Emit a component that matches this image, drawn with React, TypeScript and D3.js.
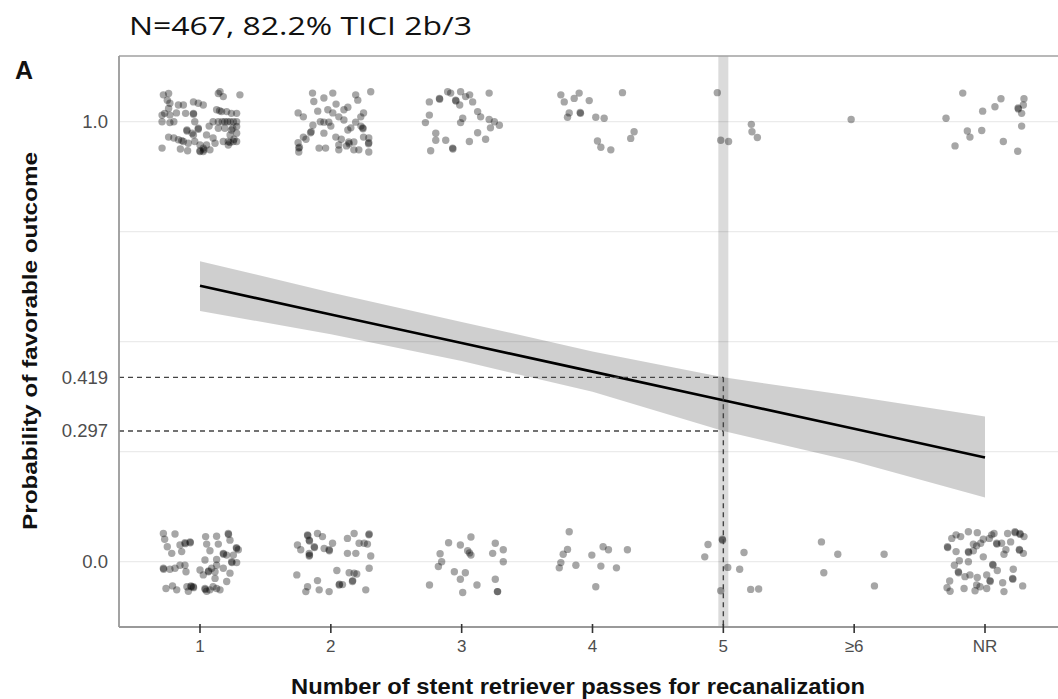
import React from "react";
import * as d3 from "d3";

// Categories on the x axis (number of stent retriever passes)
const categories = ["1", "2", "3", "4", "5", "≥6", "NR"];

// Modelled probability of a favourable outcome with its 95% confidence band
const fitValues = [0.627, 0.562, 0.497, 0.432, 0.367, 0.302, 0.237];
const ciLower = [0.57, 0.517, 0.456, 0.386, 0.297, 0.228, 0.146];
const ciUpper = [0.683, 0.612, 0.545, 0.478, 0.419, 0.376, 0.33];

const markedPassIndex = 4;
const markedBounds = [0.419, 0.297];

// Y axis ticks and grid
const yTickValues = [0, 0.297, 0.419, 1];
const yTickLabels = ["0.0", "0.297", "0.419", "1.0"];
const gridValues = [0, 0.25, 0.5, 0.75, 1];

type Pt = [number, number]; // [offset within category, jittered outcome]

// Favourable outcome (1), jittered
const fav1: Pt[] = [
  [-0.28, 1.061], [-0.24, 1.064], [-0.25, 1.049], [-0.23, 1.042], [-0.24, 1.03], [-0.27, 1.019],
  [-0.29, 1.015], [-0.23, 1.015], [-0.29, 1.0], [-0.23, 0.998], [-0.165, 1.038], [-0.127, 1.038],
  [-0.11, 1.019], [-0.05, 1.045], [-0.05, 1.019], [-0.05, 1.017], [-0.013, 1.042], [0.025, 1.038],
  [-0.04, 1.0], [-0.1, 0.981], [-0.1, 0.979], [-0.013, 0.985], [-0.013, 0.983], [-0.06, 0.974],
  [-0.24, 0.965], [-0.2, 0.963], [-0.165, 0.959], [-0.127, 0.955], [-0.09, 0.951], [-0.29, 0.94],
  [-0.15, 0.938], [-0.095, 0.934], [-0.04, 0.955], [0.0, 0.947], [0.025, 0.94], [0.025, 0.932],
  [0.05, 0.947], [0.076, 0.936], [0.1, 0.963], [0.115, 0.951], [0.14, 1.064], [0.153, 1.068],
  [0.178, 1.057], [0.305, 1.061], [0.127, 1.027], [0.165, 1.023], [0.204, 1.023], [0.24, 1.019],
  [0.28, 1.019], [0.1, 1.0], [0.14, 1.0], [0.19, 1.0], [0.23, 1.0], [0.255, 1.0], [0.14, 0.985],
  [0.19, 0.985], [0.24, 0.981], [0.28, 0.989], [0.23, 0.97], [0.28, 0.974], [0.178, 0.955],
  [0.216, 0.955], [0.255, 0.955], [0.28, 0.955], [0.216, 0.947], [0.0, 0.932], [0.0, 0.934],
  [0.23, 0.953], [0.25, 0.985], [0.15, 1.025], [0.17, 1.0], [0.21, 1.0], [-0.14, 0.957],
  [0.03, 0.936], [-0.05, 0.97], [-0.2, 1.0], [-0.18, 1.02], [0.05, 0.97], [0.07, 0.99],
  [0.28, 1.0], [0.26, 0.96],
];
const fav2: Pt[] = [
  [-0.14, 1.065], [-0.13, 1.046], [-0.053, 1.054], [0.015, 1.065], [-0.25, 1.02], [-0.21, 1.011],
  [-0.1, 1.024], [-0.023, 1.027], [0.015, 1.02], [0.1, 1.027], [0.13, 1.033], [0.19, 1.061],
  [0.206, 1.049], [-0.137, 0.992], [-0.053, 0.999], [-0.015, 0.999], [0.061, 1.011], [0.1, 1.004],
  [0.19, 0.999], [-0.15, 0.977], [-0.155, 0.975], [-0.21, 0.965], [-0.053, 0.974], [0.038, 0.965],
  [0.13, 0.981], [-0.25, 0.952], [-0.245, 0.94], [-0.24, 0.942], [-0.245, 0.931], [-0.09, 0.94],
  [-0.04, 0.94], [0.061, 0.947], [0.061, 0.936], [0.137, 0.954], [0.14, 0.95], [0.176, 0.936],
  [0.214, 0.936], [0.305, 1.068], [0.25, 1.02], [0.229, 1.011], [0.244, 0.986], [0.246, 0.984],
  [0.25, 0.965], [0.29, 0.963], [0.29, 0.952], [0.288, 0.95], [0.176, 0.954], [0.29, 0.931],
  [0.153, 0.986], [0.0, 0.99], [0.08, 0.96], [-0.19, 0.96], [0.04, 1.04], [-0.08, 1.0],
  [0.12, 0.945], [0.23, 0.99],
];
const fav3: Pt[] = [
  [-0.247, 1.045], [-0.17, 1.053], [-0.168, 1.051], [-0.107, 1.068], [-0.084, 1.065], [-0.008, 1.068],
  [-0.046, 1.049], [-0.044, 1.047], [-0.015, 1.038], [0.03, 1.057], [0.061, 1.061], [0.084, 1.045],
  [0.21, 1.065], [-0.247, 1.015], [-0.277, 0.998], [0.008, 1.008], [-0.008, 0.998], [0.122, 1.023],
  [0.145, 1.011], [0.21, 1.005], [0.25, 1.0], [0.288, 0.992], [0.22, 0.986], [-0.198, 0.974],
  [-0.198, 0.958], [-0.122, 0.958], [-0.069, 0.94], [-0.067, 0.938], [-0.237, 0.934], [0.059, 0.955],
  [0.122, 0.975], [0.183, 0.96],
];
const fav4: Pt[] = [
  [-0.242, 1.061], [-0.216, 1.045], [-0.14, 1.053], [-0.102, 1.065], [-0.025, 1.048], [0.229, 1.066],
  [-0.178, 1.02], [-0.191, 1.01], [-0.094, 1.021], [-0.092, 1.019], [0.025, 1.01], [0.089, 1.008],
  [0.038, 0.956], [0.064, 0.942], [0.14, 0.936], [0.318, 0.977], [0.292, 0.962],
];
const fav5: Pt[] = [
  [-0.046, 1.066], [-0.02, 0.958], [0.04, 0.955], [0.214, 0.994], [0.219, 0.977], [0.26, 0.964],
];
const fav6: Pt[] = [[-0.023, 1.005]];
const favNR: Pt[] = [
  [-0.17, 1.065], [-0.298, 1.008], [-0.229, 0.945], [-0.135, 0.979], [-0.115, 0.965], [-0.018, 1.024],
  [-0.025, 0.98], [0.076, 1.034], [0.122, 1.052], [0.14, 0.955], [0.25, 0.933], [0.255, 1.029],
  [0.253, 1.031], [0.28, 1.019], [0.298, 1.052], [0.293, 1.038], [0.28, 0.99],
];

// Unfavourable outcome (0), jittered
const unf1: Pt[] = [
  [-0.28, 0.064], [-0.191, 0.063], [-0.27, 0.051], [-0.25, 0.034], [-0.216, 0.019], [-0.153, 0.038],
  [-0.115, 0.043], [-0.113, 0.041], [-0.076, 0.045], [-0.074, 0.043], [-0.14, 0.023], [-0.28, -0.015],
  [-0.278, -0.017], [-0.23, -0.017], [-0.191, -0.015], [-0.153, -0.008], [-0.115, -0.008], [-0.107, -0.023],
  [-0.26, -0.061], [-0.21, -0.055], [-0.178, -0.064], [-0.1, -0.057], [-0.069, -0.055], [-0.067, -0.057],
  [-0.051, -0.057], [-0.049, -0.059], [-0.089, -0.067], [0.043, 0.057], [0.051, 0.04], [0.127, 0.058],
  [0.14, 0.04], [0.076, 0.025], [0.216, 0.064], [0.218, 0.062], [0.229, 0.049], [0.28, 0.03],
  [0.278, 0.032], [0.293, 0.027], [0.178, 0.019], [0.18, 0.017], [0.204, 0.015], [0.255, 0.015],
  [0.242, 0.0], [0.244, -0.002], [0.28, -0.002], [0.127, 0.005], [0.038, 0.004], [0.0, -0.019],
  [0.064, -0.023], [0.066, -0.021], [0.089, -0.015], [0.115, -0.023], [0.127, -0.008], [0.178, -0.015],
  [0.229, -0.026], [0.204, -0.045], [0.115, -0.038], [0.025, -0.03], [0.038, -0.061], [0.04, -0.063],
  [0.076, -0.064], [0.1, -0.057], [0.127, -0.061], [0.153, -0.064], [0.051, -0.067],
];
const unf2: Pt[] = [
  [-0.178, 0.061], [-0.176, 0.059], [-0.165, 0.049], [-0.163, 0.047], [-0.102, 0.064], [-0.064, 0.057],
  [-0.255, 0.038], [-0.23, 0.027], [-0.165, 0.013], [-0.163, 0.015], [-0.127, 0.034], [-0.125, 0.032],
  [-0.051, 0.03], [-0.013, 0.027], [-0.011, 0.025], [0.013, 0.042], [0.127, 0.053], [0.178, 0.064],
  [0.127, 0.019], [0.191, 0.019], [-0.165, 0.019], [-0.26, -0.03], [-0.178, -0.057], [-0.191, -0.068],
  [-0.102, -0.043], [-0.089, -0.064], [-0.013, -0.068], [0.046, -0.02], [0.14, -0.025], [0.178, -0.026],
  [0.064, -0.053], [0.066, -0.051], [0.089, -0.052], [0.165, -0.045], [0.167, -0.043], [0.293, 0.063],
  [0.291, 0.061], [0.216, 0.042], [0.255, 0.042], [0.28, 0.04], [0.305, 0.013], [0.293, -0.015],
  [0.198, -0.028], [0.267, -0.064],
];
const unf3: Pt[] = [
  [-0.246, -0.053], [-0.165, 0.018], [-0.153, 0.0], [-0.178, -0.011], [-0.1, 0.043], [-0.01, 0.038],
  [0.046, 0.025], [0.071, 0.015], [0.071, 0.056], [-0.056, -0.023], [-0.01, -0.04], [0.028, -0.025],
  [0.008, -0.07], [0.117, -0.053], [0.237, 0.019], [0.257, 0.042], [0.318, 0.027], [0.318, 0.0],
  [0.257, -0.04], [0.275, -0.068], [0.273, -0.068], [0.06, 0.02],
];
const unf4: Pt[] = [
  [-0.178, 0.068], [-0.191, 0.028], [-0.224, 0.017], [-0.242, -0.002], [-0.254, -0.014], [-0.127, -0.008],
  [-0.005, 0.015], [0.081, 0.034], [0.122, 0.027], [0.267, 0.027], [0.064, -0.01], [0.183, -0.014],
  [0.025, -0.057],
];
const unf5: Pt[] = [
  [-0.142, 0.011], [-0.117, 0.039], [-0.008, 0.051], [-0.006, 0.049], [-0.02, -0.066], [0.034, -0.013],
  [0.125, -0.017], [0.158, 0.021], [0.209, -0.063], [0.27, -0.062],
];
const unf6: Pt[] = [
  [-0.25, 0.045], [-0.232, -0.025], [-0.125, 0.017], [0.155, -0.055], [0.229, 0.017],
];
const unfNR: Pt[] = [
  [-0.287, 0.034], [-0.285, 0.032], [-0.254, 0.053], [-0.221, 0.061], [-0.186, 0.057], [-0.127, 0.068],
  [-0.059, 0.066], [-0.013, 0.051], [0.051, 0.061], [0.069, 0.064], [0.173, 0.064], [0.229, 0.068],
  [0.231, 0.066], [0.267, 0.064], [0.269, 0.062], [0.298, 0.057], [-0.089, 0.04], [-0.033, 0.042],
  [0.033, 0.053], [0.089, 0.042], [0.091, 0.04], [0.127, 0.042], [0.196, 0.045], [0.16, 0.027],
  [-0.221, 0.023], [-0.127, 0.023], [-0.125, 0.021], [-0.089, 0.025], [-0.064, 0.036], [-0.013, 0.011],
  [0.145, 0.017], [0.262, 0.028], [0.264, 0.026], [0.293, 0.019], [-0.234, -0.008], [-0.196, 0.002],
  [-0.127, 0.0], [0.059, -0.006], [0.061, -0.008], [0.094, -0.02], [0.216, -0.017], [-0.204, -0.023],
  [-0.202, -0.025], [-0.153, -0.034], [-0.059, -0.036], [0.038, -0.043], [0.04, -0.045], [0.135, -0.048],
  [0.211, -0.038], [0.213, -0.04], [-0.27, -0.044], [-0.29, -0.059], [-0.267, -0.067], [-0.16, -0.061],
  [-0.076, -0.066], [-0.064, -0.053], [-0.038, -0.057], [0.013, -0.061], [0.145, -0.068], [0.288, -0.055],
  [-0.115, -0.03], [0.013, -0.03],
];

const favourableByPass = [fav1, fav2, fav3, fav4, fav5, fav6, favNR];
const unfavourableByPass = [unf1, unf2, unf3, unf4, unf5, unf6, unfNR];

const W = 1058;
const H = 699;
const panel = { left: 119, top: 56, right: 1060, bottom: 627 };

export default function App() {
  const x = d3.scaleLinear().domain([0, categories.length - 1]).range([200, 985]);
  const y = d3.scaleLinear().domain([0, 1]).range([561.7, 121.7]);

  const band = d3
    .area<number>()
    .x((_, i) => x(i))
    .y0((_, i) => y(ciLower[i]))
    .y1((_, i) => y(ciUpper[i]));
  const fitLine = d3
    .line<number>()
    .x((_, i) => x(i))
    .y((d) => y(d));

  const points: { cx: number; cy: number }[] = [];
  favourableByPass.concat(unfavourableByPass).forEach((group, gi) => {
    const idx = gi % categories.length;
    group.forEach(([dx, v]) => points.push({ cx: x(idx + dx), cy: y(v) }));
  });

  const xMark = x(markedPassIndex);
  const sans = "'Liberation Sans', Arial, Helvetica, sans-serif";

  return (
    <svg
      width={W}
      height={H}
      style={{ position: "absolute", left: 0, top: 0, background: "#fff" }}
      fontFamily={sans}
    >
      <rect x={0} y={0} width={W} height={H} fill="#fff" />

      {/* horizontal grid */}
      {gridValues.map((g) => (
        <line key={g} x1={panel.left} x2={panel.right} y1={y(g)} y2={y(g)} stroke="#ebebeb" strokeWidth={1.3} />
      ))}

      {/* highlighted pass column */}
      <rect x={xMark - 5} y={panel.top} width={10} height={panel.bottom - panel.top} fill="#000" fillOpacity={0.14} />

      {/* jittered observations */}
      <g fill="#000" fillOpacity={0.35}>
        {points.map((p, i) => (
          <circle key={i} cx={p.cx} cy={p.cy} r={3.7} />
        ))}
      </g>

      {/* confidence band and fitted probability */}
      <path d={band(fitValues) ?? ""} fill="#000" fillOpacity={0.19} />
      <path d={fitLine(fitValues) ?? ""} fill="none" stroke="#000" strokeWidth={2.6} />

      {/* reference lines at the marked pass */}
      <g stroke="#444" strokeWidth={1.4} strokeDasharray="5 4" fill="none">
        {markedBounds.map((b) => (
          <line key={b} x1={panel.left} x2={xMark} y1={y(b)} y2={y(b)} />
        ))}
        <line x1={xMark} x2={xMark} y1={y(markedBounds[0])} y2={panel.bottom} />
      </g>

      {/* frame */}
      <line x1={panel.left} x2={panel.right} y1={panel.top} y2={panel.top} stroke="#a0a0a0" strokeWidth={1.5} />
      <line x1={panel.left} x2={panel.left} y1={panel.top} y2={panel.bottom} stroke="#999" strokeWidth={1.8} />
      <line x1={panel.left} x2={panel.right} y1={panel.bottom} y2={panel.bottom} stroke="#999" strokeWidth={1.8} />

      {/* x axis ticks and labels */}
      {categories.map((c, i) => (
        <g key={c}>
          <line x1={x(i)} x2={x(i)} y1={panel.bottom - 3} y2={panel.bottom + 6} stroke="#333" strokeWidth={1.6} />
          <text x={x(i)} y={652} textAnchor="middle" fontSize={17} fill="#4d4d4d">
            {c}
          </text>
        </g>
      ))}

      {/* y axis labels */}
      {yTickValues.map((v, i) => (
        <text key={v} x={108} y={y(v)} dy="0.35em" textAnchor="end" fontSize={18.5} fill="#4d4d4d">
          {yTickLabels[i]}
        </text>
      ))}

      {/* titles */}
      <text
        x={129}
        y={35}
        fontFamily="'Open Sans', Lato, sans-serif"
        fontSize={26}
        fill="#111"
        textLength={343}
        lengthAdjust="spacingAndGlyphs"
      >
        N=467, 82.2% TICI 2b/3
      </text>
      <text x={15} y={79} fontSize={25} fontWeight="bold" fill="#111">
        A
      </text>
      <text
        transform="translate(37,341) rotate(-90)"
        textAnchor="middle"
        fontSize={20}
        fontWeight="bold"
        fill="#111"
        textLength={378}
        lengthAdjust="spacingAndGlyphs"
      >
        Probability of favorable outcome
      </text>
      <text
        x={578}
        y={694}
        textAnchor="middle"
        fontSize={22}
        fontWeight="bold"
        fill="#111"
        textLength={574}
        lengthAdjust="spacingAndGlyphs"
      >
        Number of stent retriever passes for recanalization
      </text>
    </svg>
  );
}
